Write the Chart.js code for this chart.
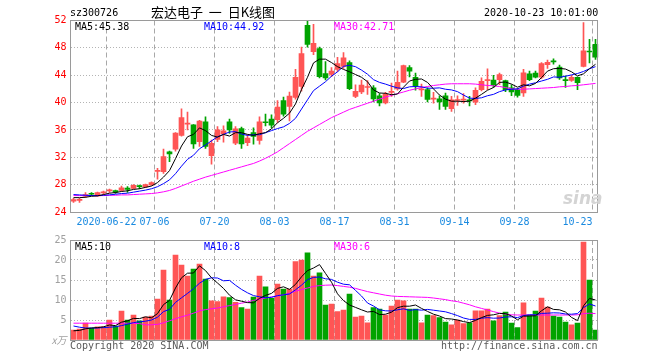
<!DOCTYPE html>
<html><head><meta charset="utf-8">
<script src="https://cdn.jsdelivr.net/npm/chart.js@4/dist/chart.umd.min.js"></script>
<style>
html,body{margin:0;padding:0;background:#fff;}
body{width:660px;height:360px;overflow:hidden;position:relative;font-family:"DejaVu Sans Mono",monospace;}
.t{position:absolute;font-size:10px;line-height:10px;white-space:pre;font-family:"DejaVu Sans Mono",monospace;}
#c1{position:absolute;left:0;top:0;}
#c2{position:absolute;left:0;top:230px;}
</style></head><body>
<canvas id="c1" width="660" height="235"></canvas>
<canvas id="c2" width="660" height="130"></canvas>
<div class="t" style="left:70px;top:8px;color:#000">sz300726</div>
<div class="t" style="left:151px;top:5px;font-size:13px;line-height:13px;font-family:'Noto Sans CJK SC',sans-serif;color:#000">宏达电子  一  日K线图</div>
<div class="t" style="left:484px;top:8px;color:#000">2020-10-23 10:01:00</div>
<div class="t" style="left:75px;top:22px;color:#000">MA5:45.38</div>
<div class="t" style="left:204px;top:22px;color:#0000ff">MA10:44.92</div>
<div class="t" style="left:334px;top:22px;color:#ff00ff">MA30:42.71</div>
<div class="t" style="left:75px;top:242px;color:#000">MA5:10</div>
<div class="t" style="left:204px;top:242px;color:#0000ff">MA10:8</div>
<div class="t" style="left:334px;top:242px;color:#ff00ff">MA30:6</div>
<div class="t" style="left:70px;top:341px;color:#5a5a5a">Copyright 2020 SINA.COM</div>
<div class="t" style="left:441px;top:341px;color:#5a5a5a">http://finance.sina.com.cn</div>
<div class="t" style="left:563px;top:190px;font-size:17px;line-height:17px;font-style:italic;font-weight:bold;font-family:'DejaVu Sans',sans-serif;color:#d4d4d4">sina</div>
<script>
const dates = ['2020-06-12','2020-06-15','2020-06-16','2020-06-17','2020-06-18','2020-06-19','2020-06-22','2020-06-23','2020-06-24','2020-06-29','2020-06-30',
'2020-07-01','2020-07-02','2020-07-03','2020-07-06','2020-07-07','2020-07-08','2020-07-09','2020-07-10','2020-07-13','2020-07-14','2020-07-15','2020-07-16','2020-07-17','2020-07-20','2020-07-21','2020-07-22','2020-07-23','2020-07-24','2020-07-27','2020-07-28','2020-07-29','2020-07-30','2020-07-31',
'2020-08-03','2020-08-04','2020-08-05','2020-08-06','2020-08-07','2020-08-10','2020-08-11','2020-08-12','2020-08-13','2020-08-14','2020-08-17','2020-08-18','2020-08-19','2020-08-20','2020-08-21','2020-08-24','2020-08-25','2020-08-26','2020-08-27','2020-08-28','2020-08-31',
'2020-09-01','2020-09-02','2020-09-03','2020-09-04','2020-09-07','2020-09-08','2020-09-09','2020-09-10','2020-09-11','2020-09-14','2020-09-15','2020-09-16','2020-09-17','2020-09-18','2020-09-21','2020-09-22','2020-09-23','2020-09-24','2020-09-25','2020-09-28','2020-09-29','2020-09-30',
'2020-10-09','2020-10-12','2020-10-13','2020-10-14','2020-10-15','2020-10-16','2020-10-19','2020-10-20','2020-10-21','2020-10-22','2020-10-23'];

const tickLabels = ['2020-06-22','07-06','07-20','08-03','08-17','08-31','09-14','09-28','10-23'];

const opens = [25.6,25.7,26.3,26.65,26.35,26.8,27.1,27.15,27.15,27.5, 27.45,27.8,27.65,27.95,29.95,29.9,32.8,33.2,35.2,36.85, 36.75,34.3,37.2,32.25,34.6,35.45,37.2,34.05,36.2,34.15, 35.6,34.45,37.2,37.6,37.5,40.3,39.45,40.75,42.35,51.3, 47.45,47.9,44.25,44.1,44.85,45.3,45.85,40.9,41.55,42.2, 42.15,41.0,39.95,41.5,42.0,43.0,45.1,43.7,41.85,41.9, 40.5,40.55,41.0,39.1,40.3,40.35,40.35,40.05,41.9,43.2, 43.3,43.35,43.2,42.15,41.9,41.4,44.2,44.3,43.7,45.55, 46.05,45.2,43.35,43.25,43.7,45.3,47.5,48.5];
const highs = [26.0,26.0,26.85,26.85,26.9,27.05,27.35,27.2,27.8,27.7, 28.0,27.95,28.1,28.4,30.4,33.2,32.9,35.6,39.1,38.6, 36.8,37.4,37.9,34.5,36.5,36.6,37.6,36.5,36.4,35.3, 36.3,37.9,38.3,38.2,40.3,40.8,41.55,44.85,48.1,51.95, 51.45,48.1,46.0,45.1,46.6,47.3,46.1,42.6,43.3,43.2, 42.5,41.3,41.5,42.85,44.6,45.5,45.4,44.3,42.7,42.15, 41.5,41.0,41.4,40.9,41.0,41.3,40.9,42.15,43.6,44.95, 44.0,44.3,43.3,42.6,42.1,44.85,44.6,44.6,45.85,46.2, 46.4,45.5,43.9,44.0,43.75,51.7,49.25,49.25];
const lows = [25.4,25.4,26.15,26.4,26.3,26.6,26.85,26.7,27.05,26.85, 27.4,27.4,27.6,27.9,28.8,29.65,31.35,32.9,35.1,36.0, 33.3,33.6,33.3,31.0,34.3,34.2,35.5,33.85,33.3,33.7, 33.9,33.9,36.6,36.3,37.1,38.0,37.3,40.5,41.65,48.1, 47.0,43.6,43.3,43.8,44.5,45.0,41.9,40.7,41.3,41.2, 40.1,39.5,39.8,40.9,41.8,42.9,43.75,41.8,40.9,40.1, 39.9,39.0,39.0,38.7,39.6,39.9,39.5,39.7,41.7,41.9, 42.2,42.6,41.6,41.0,40.8,40.9,43.2,43.6,43.5,45.0, 45.6,43.4,42.2,43.1,41.9,45.2,45.8,46.3];
const closes = [25.8,25.8,26.55,26.6,26.85,26.9,27.2,26.9,27.55,27.3, 27.9,27.7,28.0,28.3,30.05,32.1,32.5,35.55,37.8,37.0, 33.95,37.3,33.6,34.05,36.0,35.85,36.0,36.15,33.95,34.8, 35.05,37.2,37.05,36.7,39.35,38.3,40.95,43.7,47.15,48.5, 48.65,43.8,43.6,44.6,45.7,46.55,42.05,41.65,42.55,42.35, 40.55,39.95,41.25,41.6,42.95,45.4,44.6,42.4,41.95,40.45, 40.6,40.1,39.45,40.4,40.4,40.5,40.25,41.8,43.1,43.3, 42.55,44.1,41.9,41.55,41.05,44.35,43.35,43.7,45.7,45.9, 45.95,43.6,43.2,43.7,42.9,47.55,47.4,46.65];

const ma5 = [26.1,26.1,26.15,26.3,26.35,26.55,26.75,26.85,27.0,27.1, 27.3,27.4,27.6,27.8,28.3,29.1,30.05,31.8,33.65,35.0, 35.35,36.3,35.9,35.2,34.95,35.35,35.1,35.6,35.6,35.35, 35.2,35.45,35.6,36.15,37.05,37.7,38.45,39.8,41.9,43.7, 45.8,46.35,46.35,45.85,45.25,44.85,44.5,44.1,43.7,43.05, 41.85,41.4,41.35,41.15,41.25,42.25,43.15,43.4,43.45,42.95, 42.0,41.1,40.5,40.2,40.2,40.15,40.2,40.65,41.2,41.8, 42.2,42.95,43.0,42.7,42.25,42.6,42.45,42.8,43.65,44.6, 44.95,45.0,44.9,44.5,43.9,44.2,44.95,45.6];
const ma10 = [26.55,26.5,26.45,26.4,26.4,26.45,26.5,26.6,26.7,26.75, 26.9,27.05,27.2,27.4,27.7,28.15,28.7,29.6,30.7,31.7, 32.3,33.25,33.8,34.4,35.0,35.35,35.7,35.75,35.4,35.2, 35.3,35.3,35.6,35.9,36.2,36.45,36.95,37.7,39.05,40.4, 41.75,42.4,43.05,43.85,44.5,45.3,45.45,45.25,44.75,44.15, 43.35,42.95,42.7,42.4,42.15,42.05,42.3,42.35,42.3,42.1, 42.1,42.15,41.95,41.85,41.6,41.1,40.65,40.6,40.7,41.0, 41.2,41.6,41.85,41.95,42.0,42.4,42.7,42.9,43.15,43.4, 43.75,43.7,43.85,44.05,44.25,44.55,44.95,45.25];
const ma30 = [26.4,26.4,26.4,26.4,26.4,26.4,26.45,26.45,26.5,26.5, 26.55,26.6,26.65,26.7,26.8,26.95,27.15,27.45,27.8,28.15, 28.5,28.8,29.1,29.35,29.6,29.85,30.1,30.35,30.6,30.85, 31.1,31.45,31.85,32.3,32.8,33.4,34.0,34.6,35.2,35.8, 36.3,36.8,37.3,37.8,38.2,38.6,39.0,39.3,39.6,39.9, 40.2,40.5,40.8,41.05,41.3,41.55,41.8,42.0,42.2,42.35, 42.5,42.6,42.7,42.75,42.75,42.75,42.75,42.7,42.6,42.5, 42.45,42.35,42.2,42.0,41.95,41.95,42.0,42.05,42.1,42.15, 42.2,42.3,42.35,42.45,42.5,42.6,42.7,42.8];

const volumes = [2.5,2.7,4.2,2.9,3.3,3.3,5.0,3.5,7.25,5.0, 6.25,4.8,5.7,6.0,10.25,17.5,10.0,21.25,18.75,16.0, 17.75,19.0,15.2,9.8,9.6,10.8,10.6,9.4,8.1,7.75, 10.7,16.0,13.3,10.4,14.0,12.75,12.7,19.6,20.0,21.8, 16.0,16.8,8.75,9.0,7.1,7.5,11.5,5.75,6.0,4.3, 8.1,7.7,6.25,8.5,10.0,9.8,7.75,7.75,4.3,6.25, 6.1,5.6,4.5,3.8,5.0,4.1,4.3,7.3,7.3,7.75, 4.8,6.1,7.0,4.25,3.1,9.3,6.25,7.25,10.5,8.25, 6.0,5.75,4.5,3.8,4.25,24.5,15.0,2.5];
const volMa5 = [2.3,2.4,2.8,3.0,3.1,3.3,3.75,3.6,4.45,4.8, 5.4,5.35,5.8,5.55,6.6,8.85,9.9,13.0,15.55,16.7, 16.75,18.55,17.35,15.55,14.25,12.9,11.2,10.05,9.7,9.35, 9.3,10.4,11.15,11.65,12.9,13.3,12.65,13.9,15.8,17.35, 18.0,18.85,16.65,14.45,11.55,9.85,8.75,8.15,7.55,7.0, 7.15,6.35,6.45,6.95,8.1,8.45,8.45,8.75,7.9,7.15, 6.45,6.0,5.35,5.25,5.0,4.6,4.35,4.9,5.6,6.15, 6.3,6.65,6.6,6.0,5.05,5.95,6.0,6.05,7.3,8.3, 7.65,7.55,7.0,5.65,4.85,8.55,10.4,10.0];
const volMa10 = [3.5,3.2,3.0,3.0,3.0,3.1,3.2,3.3,3.6,3.95, 4.35,4.55,4.7,5.0,5.7,7.1,7.65,9.4,10.55,11.65, 12.8,14.2,15.15,15.55,15.5,14.8,14.9,13.7,12.65,11.8, 11.1,10.8,10.6,10.65,11.1,11.3,11.5,12.55,13.7,15.1, 15.65,15.75,15.3,15.15,14.45,13.95,13.8,12.4,11.0,9.25, 8.5,7.55,7.3,7.25,7.55,7.8,7.4,7.6,7.45,7.65, 7.45,7.25,7.05,6.6,6.1,5.5,5.15,5.15,5.45,5.6, 5.45,5.5,5.75,5.8,5.6,6.1,6.3,6.3,6.65,6.7, 6.8,6.75,6.5,6.45,6.6,8.1,9.0,8.5];
const volMa30 = [4.2,4.2,4.2,4.2,4.2,4.2,4.2,4.2,4.2,4.2, 4.15,4.1,3.8,3.8,3.9,4.3,4.8,5.3,5.8,6.2, 6.7,7.3,7.6,7.8,8.0,8.3,8.6,8.9,9.2,9.5, 9.9,10.2,10.5,10.8,11.0,11.3,11.7,12.2,12.6,13.0, 13.4,13.6,13.7,13.75,13.6,13.4,13.2,12.9,12.5,12.1, 11.8,11.5,11.2,11.0,10.9,10.85,10.8,10.75,10.7,10.65, 10.5,10.3,10.1,9.8,9.6,9.2,8.8,8.3,7.9,7.5, 7.1,6.7,6.5,6.3,6.25,6.25,6.25,6.25,6.25,6.25, 6.25,6.25,6.25,6.25,6.3,6.6,6.7,6.6];

const UP = '#ff5555', DOWN = '#00a300';
const candleColors = opens.map((o, i) => closes[i] >= o ? UP : DOWN);
const MONO = "'DejaVu Sans Mono', monospace";
Chart.defaults.font.family = MONO;
Chart.defaults.font.size = 10;

function tickText(i) {
  const d = dates[i];
  if (tickLabels.includes(d)) return d;
  const s = d.slice(5);
  if (tickLabels.includes(s)) return i === dates.length - 1 ? s + '     ' : s;
  return '';
}
function isTick(i) { return i < dates.length && tickText(i) !== ''; }

const frame = {
  id: 'frame',
  afterDraw(c) {
    const a = c.chartArea, ctx = c.ctx;
    ctx.save();
    ctx.strokeStyle = '#9a9a9a';
    ctx.lineWidth = 1;
    const l = Math.floor(a.left) + 0.5, t = Math.floor(a.top) + 0.5;
    const r = Math.floor(a.right) - 0.5, b = Math.floor(a.bottom) + 0.5;
    ctx.strokeRect(l, t, r - l, b - t);
    ctx.restore();
  }
};

function lineDs(data, color) {
  return {type: 'line', data, borderColor: color, borderWidth: 1, pointRadius: 0, tension: 0, order: 0, fill: false};
}
function xScale(showLabels, h) {
  return {
    type: 'category', offset: true,
    afterFit: s => { s.height = h; },
    grid: {offset: true, drawTicks: false, lineWidth: 1,
      color: c => isTick(c.index) ? '#a8a8a8' : 'rgba(0,0,0,0)'},
    border: {display: false, dash: [5, 3]},
    ticks: {display: showLabels, autoSkip: false, maxRotation: 0, minRotation: 0, padding: 4, labelOffset: -3,
      color: '#1a8ae0', font: {family: MONO, size: 10},
      callback: (v, i) => tickText(i)}
  };
}

new Chart(document.getElementById('c1'), {
  type: 'bar',
  data: {
    labels: dates,
    datasets: [
      lineDs(ma5, '#000000'),
      lineDs(ma10, '#0000ff'),
      lineDs(ma30, '#ff00ff'),
      {type: 'bar', data: lows.map((l, i) => [l, highs[i]]), backgroundColor: candleColors, barThickness: 1, grouped: false, order: 2, borderWidth: 0},
      {type: 'bar', data: opens.map((o, i) => [o, closes[i]]), backgroundColor: candleColors, barThickness: 5, minBarLength: 1, grouped: false, order: 1, borderWidth: 0}
    ]
  },
  options: {
    responsive: false, animation: false, events: [],
    layout: {padding: {top: 20.5, right: 61.5, left: 0, bottom: 0}},
    plugins: {legend: {display: false}, tooltip: {enabled: false}},
    scales: {
      x: xScale(true, 23),
      y: {
        min: 24, max: 52,
        afterFit: s => { s.width = 70.5; },
        grid: {drawTicks: false, color: '#b4b4b4', lineWidth: 1},
        border: {display: false, dash: [1, 2]},
        ticks: {stepSize: 4, padding: 4, color: '#ff0000', font: {family: MONO, size: 10}}
      }
    }
  },
  plugins: [frame]
});

new Chart(document.getElementById('c2'), {
  type: 'bar',
  data: {
    labels: dates,
    datasets: [
      lineDs(volMa5, '#000000'),
      lineDs(volMa10, '#0000ff'),
      lineDs(volMa30, '#ff00ff'),
      {type: 'bar', data: volumes, backgroundColor: candleColors, barThickness: 5, order: 1, borderWidth: 0}
    ]
  },
  options: {
    responsive: false, animation: false, events: [],
    layout: {padding: {top: 10, right: 61.5, left: 0, bottom: 0}},
    plugins: {legend: {display: false}, tooltip: {enabled: false}},
    scales: {
      x: xScale(false, 20),
      y: {
        min: 0, max: 25,
        afterFit: s => { s.width = 70.5; },
        grid: {drawTicks: false, color: c => (c.tick && (c.tick.value === 0 || c.tick.value === 25)) ? 'rgba(0,0,0,0)' : '#b4b4b4', lineWidth: 1},
        border: {display: false, dash: [1, 2]},
        ticks: {stepSize: 5, padding: 4, color: '#a0a0a0',
          font: c => (c.tick && c.tick.value === 0) ? {family: "'Noto Sans CJK SC', sans-serif", size: 10, style: 'italic'} : {family: MONO, size: 10},
          callback: v => v === 0 ? 'x万' : String(v)}
      }
    }
  },
  plugins: [frame]
});
</script>
</body></html>
